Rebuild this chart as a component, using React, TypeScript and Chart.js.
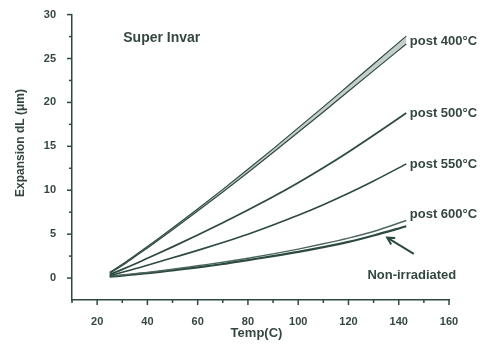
import React, { useEffect, useRef } from "react";
import { Chart, registerables } from "chart.js";

Chart.register(...registerables);

const temps = [25, 30, 35, 40, 50, 60, 70, 80, 90, 100, 110, 120, 130, 143];
const post400Upper = [0.65, 1.56, 2.57, 3.58, 5.7, 7.87, 10.1, 12.38, 14.71, 17.1, 19.49, 21.93, 24.38, 27.55];
const post400Lower = [0.55, 1.44, 2.43, 3.42, 5.5, 7.63, 9.8, 12.02, 14.29, 16.6, 18.91, 21.27, 23.62, 26.65];
const post500 = [0.4, 0.98, 1.6, 2.25, 3.55, 4.9, 6.3, 7.75, 9.25, 10.85, 12.55, 14.35, 16.25, 18.8];
const post550 = [0.25, 0.65, 1.05, 1.45, 2.3, 3.15, 4.05, 5.0, 6.05, 7.15, 8.35, 9.65, 11.05, 13.0];
const post600 = [0.2, 0.35, 0.5, 0.65, 1.0, 1.4, 1.8, 2.25, 2.75, 3.3, 3.9, 4.55, 5.3, 6.55];
const nonIrradiated = [0.15, 0.28, 0.42, 0.55, 0.88, 1.22, 1.6, 2.05, 2.5, 2.98, 3.52, 4.12, 4.85, 5.9];

const labelTexts = ["post 400°C", "post 500°C", "post 550°C", "post 600°C", "Non-irradiated"];
const labelX = [144.4, 144.4, 144.4, 144.4, 145.2];
const labelY = [26.9, 18.8, 12.9, 7.2, 0.35];
const labelAlign: CanvasTextAlign[] = ["left", "left", "left", "left", "center"];
const arrowFrom = { x: 146.0, y: 2.75 };
const arrowTo = { x: 135.4, y: 4.6 };

const chartTitle = "Super Invar";
const xTitle = "Temp(C)";
const yTitle = "Expansion dL (μm)";

const lineColor = "#2c4a41";
const textColor = "#34473f";
const bandFill = "#c6cecb";
const FONT = "'Liberation Sans', Arial, sans-serif";

const pts = (ys: number[]) => temps.map((t, i) => ({ x: t, y: ys[i] }));

export default function App() {
  const ref = useRef<HTMLCanvasElement | null>(null);
  useEffect(() => {
    document.body.style.margin = "0";
    const canvas = ref.current;
    if (!canvas) return;

    const annot = {
      id: "annot",
      afterDraw(chart: any) {
        const { ctx, chartArea } = chart;
        const x = chart.scales.x;
        const y = chart.scales.y;
        ctx.save();
        ctx.strokeStyle = lineColor;
        ctx.lineWidth = 1.5;
        x.ticks.forEach((t: any) => {
          const px = x.getPixelForValue(t.value);
          const major = Math.round(t.value) % 20 === 0;
          ctx.beginPath();
          ctx.moveTo(px, chartArea.bottom);
          ctx.lineTo(px, chartArea.bottom + (major ? 5 : 3));
          ctx.stroke();
        });
        y.ticks.forEach((t: any) => {
          if (t.value < 0) return;
          const py = y.getPixelForValue(t.value);
          const major = Math.abs(t.value % 5) < 1e-6;
          ctx.beginPath();
          ctx.moveTo(chartArea.left, py);
          ctx.lineTo(chartArea.left - (major ? 5 : 3), py);
          ctx.stroke();
        });
        ctx.fillStyle = textColor;
        ctx.textBaseline = "middle";
        ctx.font = `bold 13px ${FONT}`;
        labelTexts.forEach((s, i) => {
          ctx.textAlign = labelAlign[i];
          ctx.fillText(s, x.getPixelForValue(labelX[i]), y.getPixelForValue(labelY[i]));
        });
        ctx.font = `bold 14px ${FONT}`;
        ctx.textAlign = "left";
        ctx.fillText(chartTitle, x.getPixelForValue(30.4), y.getPixelForValue(27.3));
        ctx.font = `bold 13px ${FONT}`;
        ctx.textAlign = "center";
        ctx.fillText(xTitle, (chartArea.left + chartArea.right) / 2 - 4, 333);
        ctx.save();
        ctx.translate(21, 143);
        ctx.rotate(-Math.PI / 2);
        ctx.font = `bold 12px ${FONT}`;
        ctx.fillText(yTitle, 0, 0);
        ctx.restore();
        const ax0 = x.getPixelForValue(arrowFrom.x);
        const ay0 = y.getPixelForValue(arrowFrom.y);
        const ax1 = x.getPixelForValue(arrowTo.x);
        const ay1 = y.getPixelForValue(arrowTo.y);
        ctx.lineWidth = 2;
        ctx.beginPath();
        ctx.moveTo(ax0, ay0);
        ctx.lineTo(ax1, ay1);
        ctx.stroke();
        const ang = Math.atan2(ay0 - ay1, ax0 - ax1);
        const hl = 8;
        ctx.beginPath();
        ctx.moveTo(ax1 + hl * Math.cos(ang - 0.5), ay1 + hl * Math.sin(ang - 0.5));
        ctx.lineTo(ax1, ay1);
        ctx.lineTo(ax1 + hl * Math.cos(ang + 0.5), ay1 + hl * Math.sin(ang + 0.5));
        ctx.stroke();
        ctx.restore();
      },
    };

    const common = {
      pointRadius: 0,
      borderColor: lineColor,
      cubicInterpolationMode: "monotone" as const,
    };

    const chart = new Chart(canvas, {
      type: "line",
      data: {
        datasets: [
          { ...common, label: "post 400 upper", data: pts(post400Upper), borderWidth: 1.2, fill: false },
          { ...common, label: "post 400 lower", data: pts(post400Lower), borderWidth: 1.2, fill: "-1", backgroundColor: bandFill },
          { ...common, label: "post 500", data: pts(post500), borderWidth: 1.8, fill: false },
          { ...common, label: "post 550", data: pts(post550), borderWidth: 1.6, fill: false },
          { ...common, label: "post 600", data: pts(post600), borderWidth: 1.4, fill: false, borderColor: "#4d6760" },
          { ...common, label: "Non-irradiated", data: pts(nonIrradiated), borderWidth: 2.2, fill: false },
        ],
      },
      options: {
        responsive: false,
        animation: false,
        layout: { padding: { top: 14, right: 35, left: 0, bottom: 0 } },
        plugins: { legend: { display: false }, tooltip: { enabled: false }, title: { display: false } },
        scales: {
          x: {
            type: "linear",
            min: 10,
            max: 160,
            grid: { display: false },
            border: { display: true, color: lineColor, width: 1.5 },
            ticks: {
              stepSize: 10,
              autoSkip: false,
              maxRotation: 0,
              padding: 7,
              color: textColor,
              font: { family: FONT, size: 11, weight: "bold" },
              callback: (v: any) => (Math.round(v) % 20 === 0 ? String(v) : ""),
            },
            afterFit: (s: any) => {
              s.height = 44;
            },
          },
          y: {
            type: "linear",
            min: -2.5,
            max: 30,
            grid: { display: false },
            border: { display: true, color: lineColor, width: 1.5 },
            ticks: {
              stepSize: 2.5,
              autoSkip: false,
              padding: 8,
              color: textColor,
              font: { family: FONT, size: 11, weight: "bold" },
              callback: (v: any) => (v >= 0 && Math.abs(v % 5) < 1e-6 ? String(v) : ""),
            },
            afterFit: (s: any) => {
              s.width = 72;
            },
          },
        },
      },
      plugins: [annot],
    });
    return () => chart.destroy();
  }, []);

  return <canvas ref={ref} width={484} height={344} style={{ display: "block" }} />;
}
